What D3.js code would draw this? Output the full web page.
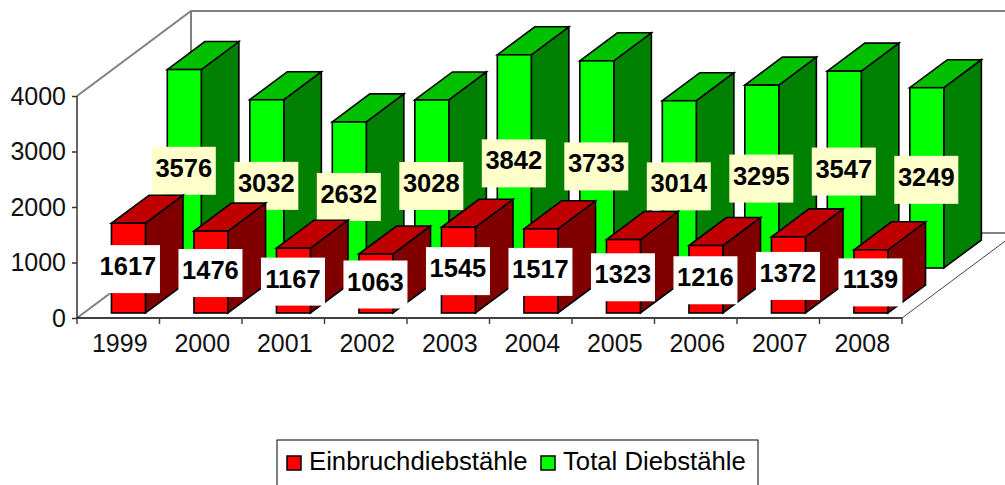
<!DOCTYPE html>
<html>
<head>
<meta charset="utf-8">
<script src="https://cdn.jsdelivr.net/npm/d3@7"></script>
<style>
  html, body { margin: 0; padding: 0; background: #fff; overflow: hidden; }
  text { font-family: "Liberation Sans", Arial, sans-serif; }
</style>
</head>
<body>
<div id="chart"></div>
<script>
const years = ["1999", "2000", "2001", "2002", "2003", "2004", "2005", "2006", "2007", "2008"];
const einbruch = [1617, 1476, 1167, 1063, 1545, 1517, 1323, 1216, 1372, 1139];
const total = [3576, 3032, 2632, 3028, 3842, 3733, 3014, 3295, 3547, 3249];
const yTicks = [0, 1000, 2000, 3000, 4000];
const legendNames = ["Einbruchdiebstähle", "Total Diebstähle"];

const width = 1005, height = 485;
const svg = d3.select("#chart").append("svg").attr("width", width).attr("height", height);

const x = d3.scaleBand().domain(years).range([77, 902]);
const y = d3.scaleLinear().domain([0, 4000]).range([318, 96]);

// oblique depth, 0 = front of floor, 1 = back wall
const depthX = d3.scaleLinear().domain([0, 1]).range([0, 114]);
const depthY = d3.scaleLinear().domain([0, 1]).range([0, -85]);

const barW = 34;
const tickFont = 25;
const labelFont = 25.5;
const legendFont = 25.7;

// back wall and floor
const wall = svg.append("g").attr("fill", "none").attr("stroke", "#808080").attr("stroke-width", 2);
const ox = depthX(1), oy = depthY(1);
wall.append("path").attr("d", `M${x.range()[0]},${y(4000)}L${x.range()[0] + ox},${y(4000) + oy}H${width + 5}`);
wall.append("path").attr("d", `M${x.range()[0] + ox},${y(4000) + oy}V${y(0) + oy}H${width + 5}`);
wall.append("path").attr("d", `M${x.range()[0]},${y(0)}L${x.range()[0] + ox},${y(0) + oy}`);
svg.append("path")
  .attr("d", `M${x.range()[1]},${y(0)}L${x.range()[1] + ox},${y(0) + oy}`)
  .attr("fill", "none").attr("stroke", "#444").attr("stroke-width", 1);

function drawSeries(values, d0, d1, shift, colors) {
  const dx0 = depthX(d0) + shift, dy0 = depthY(d0);
  const dw = depthX(d1) + shift - dx0, dh = depthY(d1) - dy0;
  const g = svg.append("g").attr("stroke", "#000").attr("stroke-width", 1.6).attr("stroke-linejoin", "miter");
  const bars = g.selectAll("g").data(values).enter().append("g");
  const left = (d, i) => x(years[i]) + (x.bandwidth() - barW) / 2 + dx0;
  const bottom = dy0 + y(0);
  const top = d => y(d) + dy0;

  bars.append("path").attr("fill", colors[2]).attr("d", (d, i) => {
    const r = left(d, i) + barW;
    return `M${r},${top(d)}L${r + dw},${top(d) + dh}V${bottom + dh}L${r},${bottom}Z`;
  });
  bars.append("path").attr("fill", colors[1]).attr("d", (d, i) => {
    const l = left(d, i);
    return `M${l},${top(d)}L${l + dw},${top(d) + dh}H${l + dw + barW}L${l + barW},${top(d)}Z`;
  });
  bars.append("rect").attr("fill", colors[0])
    .attr("x", left).attr("y", top)
    .attr("width", barW).attr("height", d => bottom - top(d));
  return { left, top, bottom };
}

function drawLabels(values, pos, fill, lift) {
  const g = svg.append("g");
  const cx = (d, i) => pos.left(d, i) + barW / 2 - 0.5;
  const cy = d => (pos.top(d) + pos.bottom) / 2 + lift;
  g.selectAll("rect").data(values).enter().append("rect")
    .attr("x", (d, i) => cx(d, i) - 32).attr("y", d => cy(d) - 24)
    .attr("width", 64).attr("height", 48).attr("fill", fill);
  g.selectAll("text").data(values).enter().append("text")
    .attr("x", cx).attr("y", d => cy(d) + 6)
    .attr("text-anchor", "middle").attr("font-size", labelFont).attr("font-weight", "bold")
    .attr("fill", "#000").text(d => d);
}

const greenPos = drawSeries(total, 50 / 85, 78 / 85, -1, ["#00ff00", "#00c000", "#008000"]);
drawLabels(total, greenPos, "#ffffcc", 2);
const redPos = drawSeries(einbruch, 5 / 85, 33 / 85, 3.5, ["#ff0000", "#c00000", "#800000"]);
drawLabels(einbruch, redPos, "#ffffff", 1);

// axes
const yAxis = svg.append("g").attr("transform", `translate(${x.range()[0]},0)`)
  .call(d3.axisLeft(y).tickValues(yTicks).tickSize(5).tickPadding(6).tickFormat(d3.format("d")));
yAxis.selectAll("text").attr("font-size", tickFont).attr("fill", "#111").attr("font-family", null);
yAxis.selectAll("line").attr("stroke", "#333").attr("stroke-width", 1.5);
yAxis.select(".domain").attr("stroke", "#333").attr("stroke-width", 1.5).attr("d", `M0,${y(4000)}V${y(0)}`);

const xAxis = svg.append("g").attr("transform", `translate(1.5,${y(0)})`)
  .call(d3.axisBottom(x).tickSize(0).tickPadding(16));
xAxis.selectAll("text").attr("font-size", tickFont).attr("fill", "#111").attr("font-family", null);
xAxis.select(".domain").attr("stroke", "#000").attr("stroke-width", 1.5).attr("d", `M${x.range()[0] - 1.5},0H${x.range()[1] - 1.5}`);
xAxis.append("g").selectAll("line").data(years.concat("end")).enter().append("line")
  .attr("x1", (d, i) => x.range()[0] - 1.5 + i * x.step()).attr("x2", (d, i) => x.range()[0] - 1.5 + i * x.step())
  .attr("y1", 0).attr("y2", 6).attr("stroke", "#444").attr("stroke-width", 1.5);

// legend
const legendColors = d3.scaleOrdinal().domain(legendNames).range(["#ff0000", "#00ff00"]);
const legend = svg.append("g");
legend.append("rect").attr("x", 277).attr("y", 440).attr("width", 481).attr("height", 50)
  .attr("fill", "#fff").attr("stroke", "#000").attr("stroke-width", 1);
const legendX = [287, 541];
const items = legend.selectAll("g").data(legendNames).enter().append("g")
  .attr("transform", (d, i) => `translate(${legendX[i]},0)`);
items.append("rect").attr("x", 0).attr("y", 456).attr("width", 14).attr("height", 14)
  .attr("fill", d => legendColors(d)).attr("stroke", "#000").attr("stroke-width", 1.5);
items.append("text").attr("x", 22).attr("y", 470).attr("font-size", legendFont).attr("fill", "#000").text(d => d);
</script>
</body>
</html>
